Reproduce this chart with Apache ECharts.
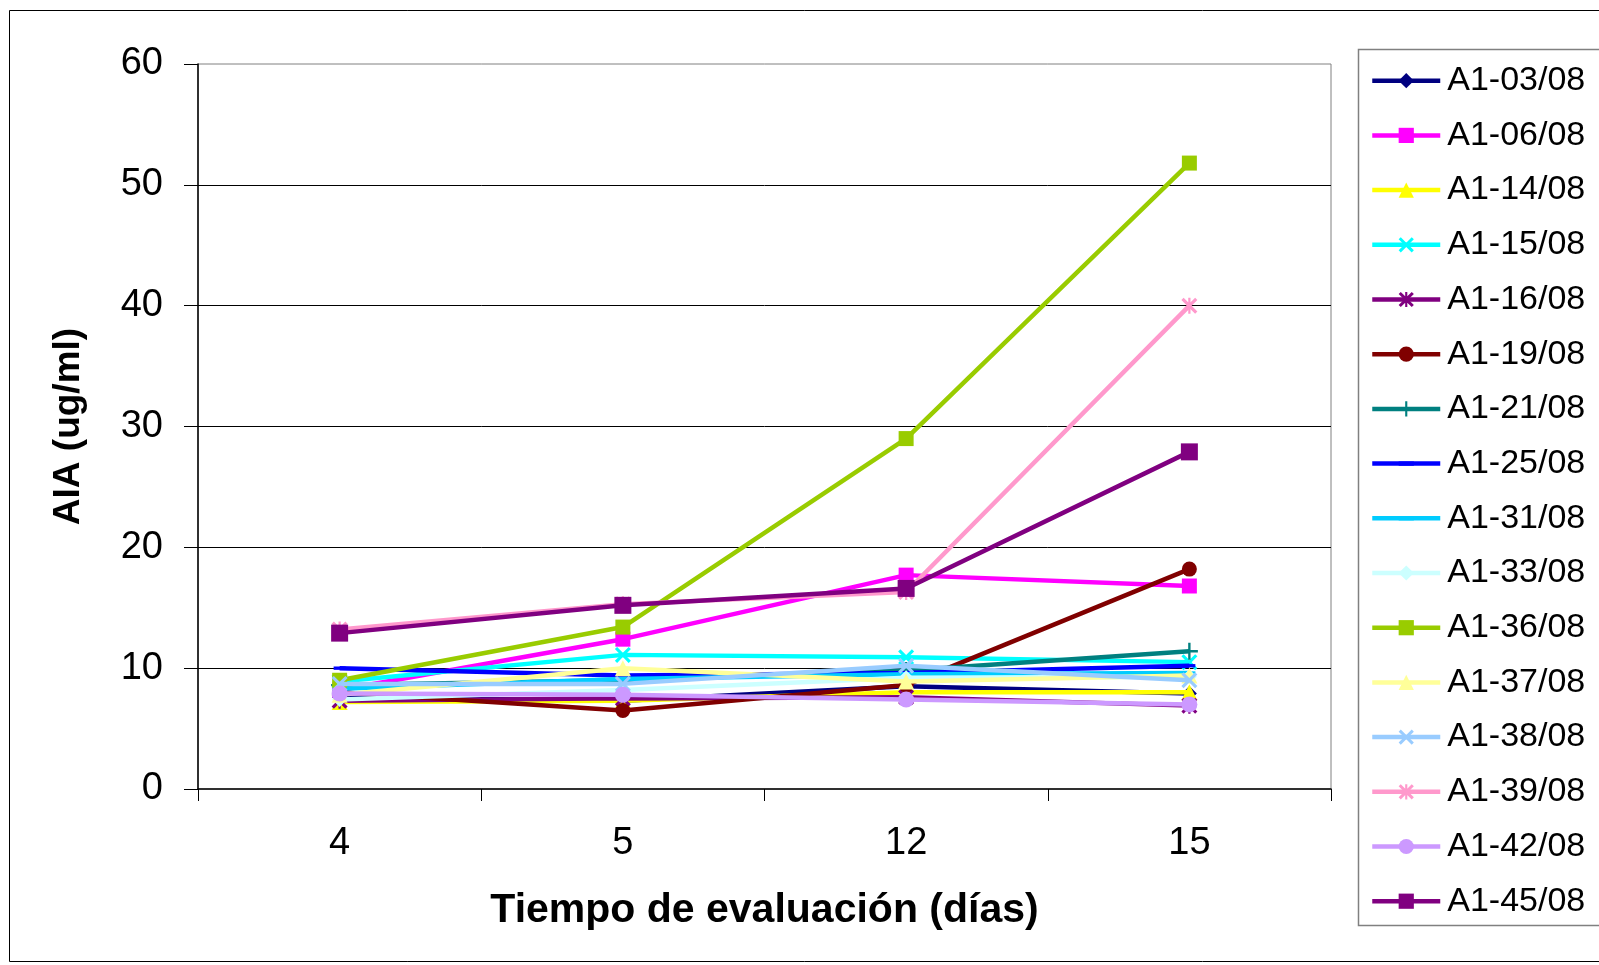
<!DOCTYPE html>
<html>
<head>
<meta charset="utf-8">
<script src="https://cdn.jsdelivr.net/npm/echarts@6/dist/echarts.min.js"></script>
<style>
  html, body { margin: 0; padding: 0; background: #fff; }
  #chart { width: 1599px; height: 965px; }
</style>
</head>
<body>
<div id="chart"></div>
<script>
// Evaluation days (x categories)
const days = ['4', '5', '12', '15'];

// AIA concentration (ug/ml) per isolate, one value per evaluation day
const a1_03 = [7.6, 7.3, 8.5, 7.9];
const a1_06 = [8.2, 12.4, 17.7, 16.8];
const a1_14 = [7.2, 7.3, 8.0, 8.0];
const a1_15 = [8.9, 11.1, 10.9, 10.5];
const a1_16 = [7.3, 7.5, 7.6, 6.9];
const a1_19 = [8.0, 6.5, 8.6, 18.2];
const a1_21 = [8.6, 9.0, 9.8, 11.4];
const a1_25 = [10.0, 9.4, 9.6, 10.2];
const a1_31 = [8.3, 9.1, 9.5, 9.6];
const a1_33 = [7.4, 8.2, 9.2, 9.3];
const a1_36 = [9.0, 13.4, 29.0, 51.8];
const a1_37 = [7.8, 10.0, 8.9, 9.4];
const a1_38 = [8.7, 8.7, 10.2, 9.0];
const a1_39 = [13.2, 15.3, 16.3, 40.0];
const a1_42 = [7.9, 7.8, 7.4, 7.0];
const a1_45 = [12.9, 15.2, 16.6, 27.9];

const names = ['A1-03/08', 'A1-06/08', 'A1-14/08', 'A1-15/08', 'A1-16/08', 'A1-19/08',
               'A1-21/08', 'A1-25/08', 'A1-31/08', 'A1-33/08', 'A1-36/08', 'A1-37/08',
               'A1-38/08', 'A1-39/08', 'A1-42/08', 'A1-45/08'];
const values = [a1_03, a1_06, a1_14, a1_15, a1_16, a1_19, a1_21, a1_25,
                a1_31, a1_33, a1_36, a1_37, a1_38, a1_39, a1_42, a1_45];

// Marker shapes (10x10 boxes so they scale evenly)
const X_PATH = 'path://M0,1.4L1.4,0L5,3.6L8.6,0L10,1.4L6.4,5L10,8.6L8.6,10L5,6.4L1.4,10L0,8.6L3.6,5Z';
const STAR_PATH = 'path://M0,1.4L1.4,0L5,3.6L8.6,0L10,1.4L6.4,5L10,8.6L8.6,10L5,6.4L1.4,10L0,8.6L3.6,5Z' +
                  'M4.3,0L5.7,0L5.7,10L4.3,10Z';
const PLUS_PATH = 'path://M4.3,0H5.7V4.3H10V5.7H5.7V10H4.3V5.7H0V4.3H4.3Z';
// short horizontal dash; the bare moves keep the box square
const DASH_PATH = 'path://M0,0M0,3.6H10V6.4H0ZM10,10';

const styles = [
  { color: '#000080', symbol: 'diamond', size: 15 },
  { color: '#FF00FF', symbol: 'rect', size: 15 },
  { color: '#FFFF00', symbol: 'triangle', size: 16 },
  { color: '#00FFFF', symbol: X_PATH, size: 16 },
  { color: '#800080', symbol: STAR_PATH, size: 16 },
  { color: '#800000', symbol: 'circle', size: 15 },
  { color: '#008080', symbol: PLUS_PATH, size: 17 },
  { color: '#0000FF', symbol: DASH_PATH, size: 12 },
  { color: '#00CCFF', symbol: DASH_PATH, size: 12 },
  { color: '#CCFFFF', symbol: 'diamond', size: 15 },
  { color: '#99CC00', symbol: 'rect', size: 15 },
  { color: '#FFFF99', symbol: 'triangle', size: 16 },
  { color: '#99CCFF', symbol: X_PATH, size: 16 },
  { color: '#FF99CC', symbol: STAR_PATH, size: 16 },
  { color: '#CC99FF', symbol: 'circle', size: 16 },
  { color: '#800080', symbol: 'rect', size: 17 }
];

const FONT = '"Liberation Sans", Arial, sans-serif';

const series = names.map((name, i) => ({
  name: name,
  type: 'line',
  data: values[i],
  symbol: styles[i].symbol,
  symbolSize: styles[i].size,
  showAllSymbol: true,
  lineStyle: { color: styles[i].color, width: 4.5 },
  itemStyle: { color: styles[i].color, borderWidth: 0 },
  emphasis: { disabled: true },
  z: 2 + i
}));

const chart = echarts.init(document.getElementById('chart'), null, { renderer: 'canvas' });
chart.setOption({
  animation: false,
  backgroundColor: '#ffffff',
  textStyle: { fontFamily: FONT },
  grid: {
    left: 198, right: 268, top: 64, bottom: 176,
    show: true, borderColor: '#808080', borderWidth: 1, backgroundColor: '#ffffff'
  },
  legend: {
    orient: 'vertical',
    left: 1370,
    top: 60.7,
    padding: 0,
    itemWidth: 68,
    itemHeight: 19,
    itemGap: 14.7,
    selectedMode: false,
    lineStyle: { width: 4.5 },
    textStyle: { fontFamily: FONT, fontSize: 34, color: '#000', lineHeight: 40, padding: [0, 0, 0, 2] },
    data: names
  },
  xAxis: {
    type: 'category',
    data: days,
    boundaryGap: true,
    axisLine: { show: true, lineStyle: { color: '#000', width: 1.5 } },
    axisTick: { show: true, length: 12, alignWithLabel: false, lineStyle: { color: '#000', width: 1 } },
    axisLabel: { fontFamily: FONT, fontSize: 38, color: '#000', margin: 36 },
    splitLine: { show: false },
    name: 'Tiempo de evaluación (días)',
    nameLocation: 'middle',
    nameGap: 101,
    nameTextStyle: { fontFamily: FONT, fontSize: 41, fontWeight: 'bold', color: '#000' }
  },
  yAxis: {
    type: 'value',
    min: 0,
    max: 60,
    interval: 10,
    axisLine: { show: true, lineStyle: { color: '#000', width: 1.5 } },
    axisTick: { show: true, inside: false, length: 14, lineStyle: { color: '#000', width: 1 } },
    axisLabel: { fontFamily: FONT, fontSize: 38, color: '#000', margin: 35 },
    splitLine: { show: true, showMaxLine: false, showMinLine: false, lineStyle: { color: '#000', width: 1 } },
    name: 'AIA (ug/ml)',
    nameLocation: 'middle',
    nameGap: 111,
    nameTextStyle: { fontFamily: FONT, fontSize: 37, fontWeight: 'bold', color: '#000' }
  },
  graphic: [
    {
      type: 'rect', silent: true, z: -10,
      shape: { x: 9.5, y: 10.5, width: 1700, height: 951 },
      style: { fill: 'none', stroke: '#000', lineWidth: 1 }
    },
    {
      type: 'rect', silent: true, z: -5,
      shape: { x: 1358.5, y: 49.5, width: 400, height: 876 },
      style: { fill: '#fff', stroke: '#808080', lineWidth: 1.5 }
    }
  ],
  series: series
});
</script>
</body>
</html>
